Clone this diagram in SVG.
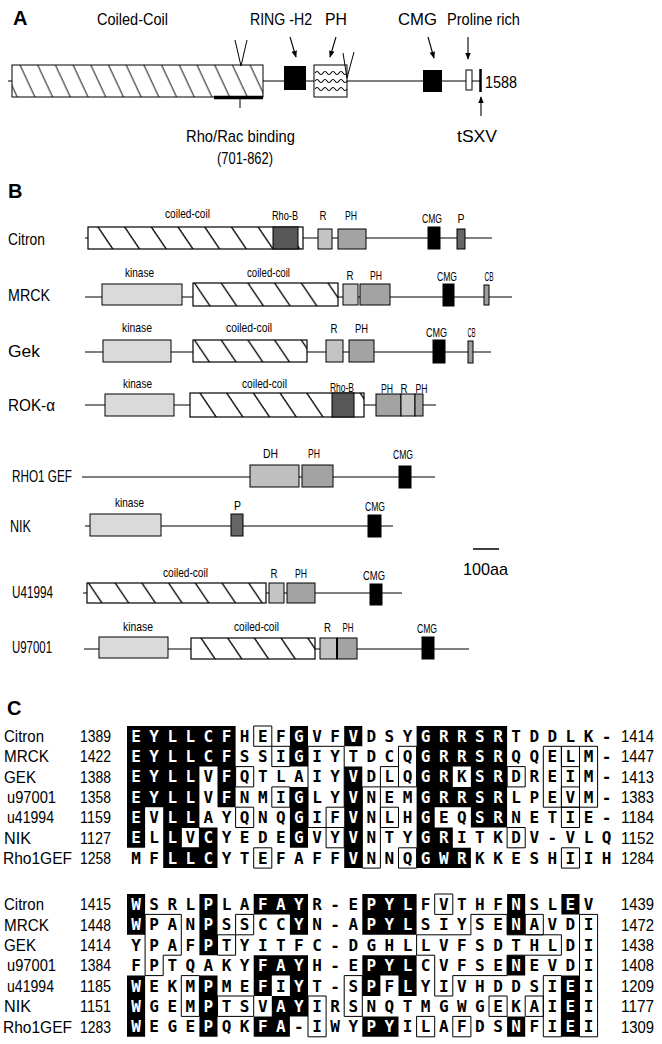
<svg xmlns="http://www.w3.org/2000/svg" width="662" height="1044" viewBox="0 0 662 1044">
<style>
text{font-family:"Liberation Sans",Arial,sans-serif;fill:#000}
.lb{font-size:17px}
.sm{font-size:13px}
.hd{font-size:20px;font-weight:bold}
.aa text{font-family:"DejaVu Sans Mono",monospace;font-weight:bold;font-size:16px;fill:inherit}
.ln{stroke:#000;stroke-width:1.2;fill:none}
.bx{stroke:#000;stroke-width:1}
.wf{fill:#fff}
.k{fill:#dadada}.r{fill:#c4c4c4}.ph{fill:#a3a3a3}.rb{fill:#575757}.p{fill:#656565}.cb{fill:#9e9e9e}.dh{fill:#bfbfbf}.cm{fill:#000}
.c1{fill:url(#hb1);stroke:#000;stroke-width:1.2}
.c2{fill:url(#hb2);stroke:#000;stroke-width:1.2}
.bxg rect,.bxg path{fill:none;stroke:#000;stroke-width:1;vector-effect:non-scaling-stroke}
</style>
<defs>
<pattern id="ha" patternUnits="userSpaceOnUse" width="17.7" height="40" patternTransform="skewX(25)"><line x1="8" y1="-2" x2="8" y2="42" stroke="#000" stroke-width="1"/></pattern>
<pattern id="hb1" patternUnits="userSpaceOnUse" width="26.7" height="30" patternTransform="skewX(34)"><line x1="10" y1="-2" x2="10" y2="32" stroke="#000" stroke-width="1.6"/></pattern>
<pattern id="hb2" patternUnits="userSpaceOnUse" width="26.7" height="30" patternTransform="skewX(34)"><line x1="1.5" y1="-2" x2="1.5" y2="32" stroke="#000" stroke-width="1.6"/></pattern>
<marker id="ar" viewBox="0 0 10 10" refX="9" refY="5" markerWidth="7" markerHeight="7" orient="auto" markerUnits="userSpaceOnUse"><path d="M0,1 L10,5 L0,9 z" fill="#000"/></marker>
<clipPath id="k1" transform="translate(127 726) scale(18.1 20.3)">
<rect x="0" y="0" width="1" height="6"/><rect x="1" y="0" width="1" height="4"/><rect x="2" y="0" width="1" height="7"/>
<rect x="3" y="0" width="1" height="5"/><rect x="3" y="6" width="1" height="1"/><rect x="4" y="0" width="1" height="2"/>
<rect x="4" y="5" width="1" height="2"/><rect x="5" y="0" width="1" height="4"/><rect x="9" y="0" width="1" height="2"/>
<rect x="9" y="3" width="1" height="3"/><rect x="12" y="0" width="1" height="1"/><rect x="12" y="2" width="1" height="5"/>
<rect x="16" y="0" width="1" height="7"/><rect x="17" y="0" width="1" height="4"/><rect x="17" y="5" width="1" height="2"/>
<rect x="18" y="0" width="1" height="2"/><rect x="18" y="3" width="1" height="1"/><rect x="18" y="6" width="1" height="1"/>
<rect x="19" y="0" width="2" height="5"/>
</clipPath>
<clipPath id="k2" transform="translate(127 894) scale(18.1 20.4)">
<rect x="0" y="0" width="1" height="2"/><rect x="0" y="4" width="1" height="3"/><rect x="4" y="0" width="1" height="3"/>
<rect x="4" y="4" width="1" height="3"/><rect x="7" y="0" width="3" height="1"/><rect x="9" y="1" width="1" height="1"/>
<rect x="7" y="3" width="3" height="1"/><rect x="7" y="4" width="1" height="1"/><rect x="9" y="4" width="1" height="2"/>
<rect x="8" y="5" width="1" height="2"/><rect x="7" y="6" width="1" height="1"/><rect x="13" y="0" width="3" height="2"/>
<rect x="13" y="3" width="3" height="1"/><rect x="13" y="4" width="1" height="1"/><rect x="15" y="4" width="1" height="1"/>
<rect x="13" y="6" width="2" height="1"/><rect x="21" y="0" width="1" height="2"/><rect x="21" y="3" width="1" height="1"/>
<rect x="21" y="6" width="1" height="1"/><rect x="24" y="0" width="1" height="1"/><rect x="24" y="4" width="1" height="3"/>
</clipPath>
<g id="s1" class="aa">
<text y="741.8" x="136 154.1 172.2 190.3 208.4 226.5 244.6 262.7 280.8 298.9 317 335.1 353.2 371.3 389.4 407.5 425.6 443.7 461.8 479.9 498 516.1 534.2 552.3 570.4 588.5 606.6" text-anchor="middle">EYLLCFHEFGVFVDSYGRRSRTDDLK-</text>
<text y="762.1" x="136 154.1 172.2 190.3 208.4 226.5 244.6 262.7 280.8 298.9 317 335.1 353.2 371.3 389.4 407.5 425.6 443.7 461.8 479.9 498 516.1 534.2 552.3 570.4 588.5 606.6" text-anchor="middle">EYLLCFSSIGIYTDCQGRRSRQQELM-</text>
<text y="782.4" x="136 154.1 172.2 190.3 208.4 226.5 244.6 262.7 280.8 298.9 317 335.1 353.2 371.3 389.4 407.5 425.6 443.7 461.8 479.9 498 516.1 534.2 552.3 570.4 588.5 606.6" text-anchor="middle">EYLLVFQTLAIYVDLQGRKSRDREIM-</text>
<text y="802.7" x="136 154.1 172.2 190.3 208.4 226.5 244.6 262.7 280.8 298.9 317 335.1 353.2 371.3 389.4 407.5 425.6 443.7 461.8 479.9 498 516.1 534.2 552.3 570.4 588.5 606.6" text-anchor="middle">EYLLVFNMIGLYVNEMGRRSRLPEVM-</text>
<text y="823" x="136 154.1 172.2 190.3 208.4 226.5 244.6 262.7 280.8 298.9 317 335.1 353.2 371.3 389.4 407.5 425.6 443.7 461.8 479.9 498 516.1 534.2 552.3 570.4 588.5 606.6" text-anchor="middle">EVLLAYQNQGIFVNLHGEQSRNETIE-</text>
<text y="843.3" x="136 154.1 172.2 190.3 208.4 226.5 244.6 262.7 280.8 298.9 317 335.1 353.2 371.3 389.4 407.5 425.6 443.7 461.8 479.9 498 516.1 534.2 552.3 570.4 588.5 606.6" text-anchor="middle">ELLVCYEDEGVYVNTYGRITKDV-VLQ</text>
<text y="863.6" x="136 154.1 172.2 190.3 208.4 226.5 244.6 262.7 280.8 298.9 317 335.1 353.2 371.3 389.4 407.5 425.6 443.7 461.8 479.9 498 516.1 534.2 552.3 570.4 588.5 606.6" text-anchor="middle">MFLLCYTEFAFFVNNQGWRKKESHIIH</text>
</g>
<g id="s2" class="aa">
<text y="910" x="136 154.1 172.2 190.3 208.4 226.5 244.6 262.7 280.8 298.9 317 335.1 353.2 371.3 389.4 407.5 425.6 443.7 461.8 479.9 498 516.1 534.2 552.3 570.4 588.5" text-anchor="middle">WSRLPLAFAYR-EPYLFVTHFNSLEV</text>
<text y="930.4" x="136 154.1 172.2 190.3 208.4 226.5 244.6 262.7 280.8 298.9 317 335.1 353.2 371.3 389.4 407.5 425.6 443.7 461.8 479.9 498 516.1 534.2 552.3 570.4 588.5" text-anchor="middle">WPANPSSCCYN-APYLSIYSENAVDI</text>
<text y="950.8" x="136 154.1 172.2 190.3 208.4 226.5 244.6 262.7 280.8 298.9 317 335.1 353.2 371.3 389.4 407.5 425.6 443.7 461.8 479.9 498 516.1 534.2 552.3 570.4 588.5" text-anchor="middle">YPAFPTYITFC-DGHLLVFSDTHLDI</text>
<text y="971.2" x="136 154.1 172.2 190.3 208.4 226.5 244.6 262.7 280.8 298.9 317 335.1 353.2 371.3 389.4 407.5 425.6 443.7 461.8 479.9 498 516.1 534.2 552.3 570.4 588.5" text-anchor="middle">FPTQAKYFAYH-EPYLCVFSENEVDI</text>
<text y="991.6" x="136 154.1 172.2 190.3 208.4 226.5 244.6 262.7 280.8 298.9 317 335.1 353.2 371.3 389.4 407.5 425.6 443.7 461.8 479.9 498 516.1 534.2 552.3 570.4 588.5" text-anchor="middle">WEKMPMEFIYT-SPFLYIVHDDSIEI</text>
<text y="1012" x="136 154.1 172.2 190.3 208.4 226.5 244.6 262.7 280.8 298.9 317 335.1 353.2 371.3 389.4 407.5 425.6 443.7 461.8 479.9 498 516.1 534.2 552.3 570.4 588.5" text-anchor="middle">WGEMPTSVAYIRSNQTMGWGEKAIEI</text>
<text y="1032.4" x="136 154.1 172.2 190.3 208.4 226.5 244.6 262.7 280.8 298.9 317 335.1 353.2 371.3 389.4 407.5 425.6 443.7 461.8 479.9 498 516.1 534.2 552.3 570.4 588.5" text-anchor="middle">WEGEPQKFA-IWYPYILAFDSNFIEI</text>
</g>
</defs>
<rect width="662" height="1044" fill="#fff"/>

<!-- Panel A -->
<g id="panelA">
<text class="hd" x="13" y="25" font-size="19">A</text>
<line class="ln" x1="8" y1="81" x2="480" y2="81"/>
<g id="a-coiled"><rect class="wf" x="12" y="65" width="251" height="32"/><g transform="translate(12,65)"><rect width="251" height="32" fill="url(#ha)" stroke="#000" stroke-width="1"/></g></g>
<g id="a-ring"><rect class="cm" x="284" y="66" width="22" height="24"/></g>
<g id="a-ph"><rect x="314" y="65" width="33" height="32" fill="#fff" stroke="#000" stroke-width="1"/>
<path d="M315,73 q2,-3 4,0 t4,0 t4,0 t4,0 t4,0 t4,0 t4,0 t4,0 M315,81 q2,-3 4,0 t4,0 t4,0 t4,0 t4,0 t4,0 t4,0 t4,0 M315,89 q2,-3 4,0 t4,0 t4,0 t4,0 t4,0 t4,0 t4,0 t4,0" fill="none" stroke="#000" stroke-width="1.1"/></g>
<g id="a-cmg"><rect class="cm" x="423" y="70" width="19" height="22"/></g>
<g id="a-pro"><rect x="466" y="70" width="6" height="20" fill="#fff" stroke="#000" stroke-width="1"/></g>
<g id="a-tsxv"><line x1="480.5" y1="69" x2="480.5" y2="92" stroke="#000" stroke-width="2.5"/></g>
<polyline points="235,40 241,66 247,40" fill="none" stroke="#000" stroke-width="1"/>
<polyline points="343,53 347,78 354,52" fill="none" stroke="#000" stroke-width="1"/>
<g id="a-rho"><line x1="214" y1="97.5" x2="263" y2="97.5" stroke="#000" stroke-width="3.5"/><line x1="240" y1="99" x2="240" y2="108" stroke="#000" stroke-width="1"/></g>
<text class="lb" x="97" y="25" font-size="18" textLength="71" lengthAdjust="spacingAndGlyphs">Coiled-Coil</text>
<text class="lb" x="250" y="25" font-size="18" textLength="62" lengthAdjust="spacingAndGlyphs">RING -H2</text>
<text class="lb" x="325" y="25" font-size="18" textLength="22" lengthAdjust="spacingAndGlyphs">PH</text>
<text class="lb" x="398" y="25" font-size="18" textLength="39" lengthAdjust="spacingAndGlyphs">CMG</text>
<text class="lb" x="447" y="25" font-size="18" textLength="73" lengthAdjust="spacingAndGlyphs">Proline rich</text>
<text class="lb" x="485" y="88" textLength="32" lengthAdjust="spacingAndGlyphs">1588</text>
<text class="lb" x="457" y="142" font-size="18" textLength="40" lengthAdjust="spacingAndGlyphs">tSXV</text>
<text class="lb" x="186" y="142" font-size="18" textLength="109" lengthAdjust="spacingAndGlyphs">Rho/Rac binding</text>
<text class="lb" x="217" y="164" font-size="18" textLength="56" lengthAdjust="spacingAndGlyphs">(701-862)</text>
</g>
<g id="connectors">
<line x1="290" y1="37" x2="296" y2="57" stroke="#000" stroke-width="1.1" marker-end="url(#ar)"/>
<line x1="336" y1="37" x2="330" y2="57" stroke="#000" stroke-width="1.1" marker-end="url(#ar)"/>
<line x1="428" y1="37" x2="434" y2="58" stroke="#000" stroke-width="1.1" marker-end="url(#ar)"/>
<line x1="468" y1="37" x2="468" y2="59" stroke="#000" stroke-width="1.1" marker-end="url(#ar)"/>
<line x1="481" y1="116" x2="481" y2="97" stroke="#000" stroke-width="1.1" marker-end="url(#ar)"/>
</g>

<!-- Panel B -->
<text class="hd" x="8" y="198">B</text>
<g id="citron">
<line class="ln" x1="85" y1="238" x2="492" y2="238"/>
<rect class="wf" x="88" y="227" width="215" height="22"/><g transform="translate(88,227)"><rect class="c1" width="215" height="22"/></g>
<rect class="bx rb" x="273" y="227" width="25" height="22"/>
<rect class="bx r" x="318" y="229" width="14" height="20"/>
<rect class="bx ph" x="338" y="229" width="28" height="20"/>
<rect class="bx cm" x="428" y="227" width="12" height="22"/>
<rect class="bx p" x="457" y="229" width="8" height="20"/>
<text class="lb" x="8" y="245" font-size="16" textLength="37" lengthAdjust="spacingAndGlyphs">Citron</text>
<g class="sm" text-anchor="middle">
<text x="187.5" y="218" textLength="45" lengthAdjust="spacingAndGlyphs">coiled-coil</text>
<text x="285" y="220" textLength="26" lengthAdjust="spacingAndGlyphs">Rho-B</text>
<text x="323" y="220" textLength="7" lengthAdjust="spacingAndGlyphs">R</text>
<text x="351" y="220" textLength="12" lengthAdjust="spacingAndGlyphs">PH</text>
<text x="432" y="223" textLength="20" lengthAdjust="spacingAndGlyphs">CMG</text>
<text x="461" y="223" textLength="7" lengthAdjust="spacingAndGlyphs">P</text>
</g></g>
<g id="mrck">
<line class="ln" x1="85" y1="297" x2="512" y2="297"/>
<rect class="bx k" x="102" y="284" width="80" height="21"/>
<rect class="wf" x="193" y="283" width="145" height="23"/><g transform="translate(193,283)"><rect class="c2" width="145" height="23"/></g>
<rect class="bx r" x="343" y="284" width="15" height="21"/>
<rect class="bx ph" x="360" y="284" width="30" height="21"/>
<rect class="bx cm" x="443" y="284" width="11" height="22"/>
<rect class="bx cb" x="484" y="285" width="5" height="20"/>
<text class="lb" x="8" y="301" font-size="16" textLength="42" lengthAdjust="spacingAndGlyphs">MRCK</text>
<g class="sm" text-anchor="middle">
<text x="139.5" y="277" textLength="29" lengthAdjust="spacingAndGlyphs">kinase</text>
<text x="268.5" y="277" textLength="43" lengthAdjust="spacingAndGlyphs">coiled-coil</text>
<text x="350" y="280" textLength="7" lengthAdjust="spacingAndGlyphs">R</text>
<text x="376" y="280" textLength="12" lengthAdjust="spacingAndGlyphs">PH</text>
<text x="447" y="281" textLength="20" lengthAdjust="spacingAndGlyphs">CMG</text>
<text x="489" y="281" textLength="9" lengthAdjust="spacingAndGlyphs">CB</text>
</g></g>
<g id="gek">
<line class="ln" x1="85" y1="352" x2="491" y2="352"/>
<rect class="bx k" x="103" y="340" width="68" height="22"/>
<rect class="wf" x="193" y="340" width="114" height="22"/><g transform="translate(193,340)"><rect class="c2" width="114" height="22"/></g>
<rect class="bx r" x="326" y="340" width="17" height="22"/>
<rect class="bx ph" x="349" y="340" width="25" height="22"/>
<rect class="bx cm" x="433" y="340" width="12" height="23"/>
<rect class="bx cb" x="468" y="341" width="5" height="22"/>
<text class="lb" x="8" y="357" font-size="16" textLength="32" lengthAdjust="spacingAndGlyphs">Gek</text>
<g class="sm" text-anchor="middle">
<text x="137" y="332" textLength="30" lengthAdjust="spacingAndGlyphs">kinase</text>
<text x="249" y="332" textLength="46" lengthAdjust="spacingAndGlyphs">coiled-coil</text>
<text x="334" y="333" textLength="7" lengthAdjust="spacingAndGlyphs">R</text>
<text x="361.5" y="333" textLength="13" lengthAdjust="spacingAndGlyphs">PH</text>
<text x="436.5" y="337" textLength="21" lengthAdjust="spacingAndGlyphs">CMG</text>
<text x="471.5" y="337" textLength="8" lengthAdjust="spacingAndGlyphs">CB</text>
</g></g>
<g id="rok">
<line class="ln" x1="85" y1="405" x2="436" y2="405"/>
<rect class="bx k" x="105" y="394" width="69" height="22"/>
<rect class="wf" x="190" y="393" width="174" height="24"/><g transform="translate(190,393)"><rect class="c1" width="174" height="24"/></g>
<rect class="bx rb" x="332" y="393" width="22" height="24"/>
<rect class="bx ph" x="376" y="394" width="25" height="22"/>
<rect class="bx r" x="401" y="394" width="14" height="22"/>
<rect class="bx ph" x="415" y="394" width="8" height="22"/>
<text class="lb" x="8" y="411" font-size="16" textLength="47" lengthAdjust="spacingAndGlyphs">ROK-α</text>
<g class="sm" text-anchor="middle">
<text x="137.5" y="388" textLength="29" lengthAdjust="spacingAndGlyphs">kinase</text>
<text x="264.5" y="388" textLength="45" lengthAdjust="spacingAndGlyphs">coiled-coil</text>
<text x="342" y="392" textLength="24" lengthAdjust="spacingAndGlyphs">Rho-B</text>
<text x="387" y="393" textLength="12" lengthAdjust="spacingAndGlyphs">PH</text>
<text x="404" y="393" textLength="7" lengthAdjust="spacingAndGlyphs">R</text>
<text x="421.5" y="393" textLength="12" lengthAdjust="spacingAndGlyphs">PH</text>
</g></g>
<g id="rho1gef">
<line class="ln" x1="82" y1="477" x2="435" y2="477"/>
<rect class="bx dh" x="250" y="465" width="49" height="22"/>
<rect class="bx ph" x="302" y="465" width="31" height="22"/>
<rect class="bx cm" x="399" y="466" width="12" height="22"/>
<text class="lb" x="12" y="482" font-size="16" textLength="60" lengthAdjust="spacingAndGlyphs">RHO1 GEF</text>
<g class="sm" text-anchor="middle">
<text x="270.5" y="458" textLength="15" lengthAdjust="spacingAndGlyphs">DH</text>
<text x="314" y="458" textLength="12" lengthAdjust="spacingAndGlyphs">PH</text>
<text x="403" y="459" textLength="20" lengthAdjust="spacingAndGlyphs">CMG</text>
</g></g>
<g id="nik">
<line class="ln" x1="85" y1="526" x2="393" y2="526"/>
<rect class="bx k" x="90" y="514" width="71" height="22"/>
<rect class="bx p" x="231" y="514" width="12" height="22"/>
<rect class="bx cm" x="368" y="515" width="13" height="22"/>
<text class="lb" x="10" y="532" font-size="16" textLength="21" lengthAdjust="spacingAndGlyphs">NIK</text>
<g class="sm" text-anchor="middle">
<text x="129.5" y="507" textLength="29" lengthAdjust="spacingAndGlyphs">kinase</text>
<text x="237.5" y="510" textLength="7" lengthAdjust="spacingAndGlyphs">P</text>
<text x="375" y="511" textLength="20" lengthAdjust="spacingAndGlyphs">CMG</text>
</g></g>
<g id="scalebar">
<line x1="473" y1="549" x2="499" y2="549" stroke="#000" stroke-width="1.5"/>
<text class="lb" x="463" y="575" textLength="45" lengthAdjust="spacingAndGlyphs">100aa</text>
</g>
<g id="u41994">
<line class="ln" x1="83" y1="593" x2="402" y2="593"/>
<rect class="wf" x="87" y="583" width="179" height="20"/><g transform="translate(87,583)"><rect class="c2" width="179" height="20"/></g>
<rect class="bx r" x="269" y="583" width="15" height="20"/>
<rect class="bx ph" x="287" y="583" width="28" height="20"/>
<rect class="bx cm" x="370" y="584" width="12" height="21"/>
<text class="lb" x="12" y="598" font-size="16" textLength="41" lengthAdjust="spacingAndGlyphs">U41994</text>
<g class="sm" text-anchor="middle">
<text x="185.5" y="577" textLength="45" lengthAdjust="spacingAndGlyphs">coiled-coil</text>
<text x="274" y="578" textLength="7" lengthAdjust="spacingAndGlyphs">R</text>
<text x="301" y="578" textLength="12" lengthAdjust="spacingAndGlyphs">PH</text>
<text x="374" y="580" textLength="22" lengthAdjust="spacingAndGlyphs">CMG</text>
</g></g>
<g id="u97001">
<line class="ln" x1="84" y1="649" x2="469" y2="649"/>
<rect class="bx k" x="99" y="637" width="69" height="21"/>
<rect class="wf" x="191" y="638" width="124" height="21"/><g transform="translate(191,638)"><rect class="c1" width="124" height="21"/></g>
<rect class="bx r" x="320" y="638" width="17" height="21"/>
<rect class="ph" x="337" y="638" width="20" height="21" stroke="#000" stroke-width="1"/>
<line x1="337" y1="638" x2="337" y2="659" stroke="#000" stroke-width="2"/>
<rect class="bx cm" x="422" y="637" width="12" height="22"/>
<text class="lb" x="12" y="653" font-size="16" textLength="40" lengthAdjust="spacingAndGlyphs">U97001</text>
<g class="sm" text-anchor="middle">
<text x="138" y="631" textLength="30" lengthAdjust="spacingAndGlyphs">kinase</text>
<text x="256.5" y="631" textLength="45" lengthAdjust="spacingAndGlyphs">coiled-coil</text>
<text x="327.5" y="632" textLength="7" lengthAdjust="spacingAndGlyphs">R</text>
<text x="348" y="632" textLength="11" lengthAdjust="spacingAndGlyphs">PH</text>
<text x="427" y="633" textLength="20" lengthAdjust="spacingAndGlyphs">CMG</text>
</g></g>

<!-- Panel C -->
<text class="hd" x="7" y="715" font-size="21">C</text>
<g id="block1">
<rect x="100" y="700" width="560" height="190" fill="#000" clip-path="url(#k1)"/>
<use href="#s1" fill="#000"/>
<use href="#s1" fill="#fff" clip-path="url(#k1)"/>
<g class="bxg" transform="translate(127 726) scale(18.1 20.3)">
<rect x="7" y="0" width="1" height="1"/><rect x="8" y="1" width="1" height="1"/><rect x="8" y="3" width="1" height="1"/>
<rect x="6" y="2" width="1" height="1"/><rect x="6" y="4" width="1" height="1"/><rect x="7" y="6" width="1" height="1"/>
<rect x="3" y="5" width="1" height="1"/><rect x="11" y="5" width="1" height="1"/>
<path d="M10,1 H12 V4 H11 V5 H10 Z"/>
<rect x="13" y="3" width="1" height="4"/><rect x="14" y="2" width="1" height="1"/><rect x="14" y="4" width="1" height="1"/>
<rect x="15" y="1" width="1" height="2"/><rect x="15" y="6" width="1" height="1"/>
<rect x="21" y="2" width="1" height="1"/><rect x="21" y="5" width="1" height="1"/>
<rect x="23" y="1" width="1" height="3"/><rect x="24" y="1" width="1" height="1"/><rect x="24" y="3" width="1" height="1"/>
<rect x="24" y="4" width="1" height="1"/><rect x="24" y="6" width="1" height="1"/><rect x="25" y="1" width="1" height="3"/>
</g>
<g class="lb">
<text x="4" y="742" textLength="40" lengthAdjust="spacingAndGlyphs">Citron</text>
<text x="4" y="762.3" textLength="45" lengthAdjust="spacingAndGlyphs">MRCK</text>
<text x="4" y="782.6" textLength="32" lengthAdjust="spacingAndGlyphs">GEK</text>
<text x="7" y="803" textLength="49" lengthAdjust="spacingAndGlyphs">u97001</text>
<text x="7" y="823.2" textLength="47" lengthAdjust="spacingAndGlyphs">u41994</text>
<text x="4" y="843.5" textLength="27" lengthAdjust="spacingAndGlyphs">NIK</text>
<text x="3" y="863.8" textLength="69" lengthAdjust="spacingAndGlyphs">Rho1GEF</text>
<text x="80" y="742" textLength="31" lengthAdjust="spacingAndGlyphs">1389</text>
<text x="80" y="762.3" textLength="31" lengthAdjust="spacingAndGlyphs">1422</text>
<text x="80" y="782.6" textLength="31" lengthAdjust="spacingAndGlyphs">1388</text>
<text x="80" y="803" textLength="31" lengthAdjust="spacingAndGlyphs">1358</text>
<text x="80" y="823.2" textLength="31" lengthAdjust="spacingAndGlyphs">1159</text>
<text x="80" y="843.5" textLength="31" lengthAdjust="spacingAndGlyphs">1127</text>
<text x="80" y="863.8" textLength="31" lengthAdjust="spacingAndGlyphs">1258</text>
<text x="621" y="742" textLength="33" lengthAdjust="spacingAndGlyphs">1414</text>
<text x="621" y="762.3" textLength="33" lengthAdjust="spacingAndGlyphs">1447</text>
<text x="621" y="782.6" textLength="33" lengthAdjust="spacingAndGlyphs">1413</text>
<text x="621" y="803" textLength="33" lengthAdjust="spacingAndGlyphs">1383</text>
<text x="621" y="823.2" textLength="33" lengthAdjust="spacingAndGlyphs">1184</text>
<text x="621" y="843.5" textLength="33" lengthAdjust="spacingAndGlyphs">1152</text>
<text x="621" y="863.8" textLength="33" lengthAdjust="spacingAndGlyphs">1284</text>
</g></g>
<g id="block2">
<rect x="100" y="880" width="560" height="164" fill="#000" clip-path="url(#k2)"/>
<use href="#s2" fill="#000"/>
<use href="#s2" fill="#fff" clip-path="url(#k2)"/>
<g class="bxg" transform="translate(127 894) scale(18.1 20.4)">
<rect x="17" y="0" width="1" height="1"/><rect x="6" y="1" width="1" height="1"/><rect x="5" y="2" width="1" height="1"/>
<rect x="22" y="1" width="1" height="1"/><rect x="20" y="5" width="1" height="1"/><rect x="22" y="5" width="1" height="1"/>
<rect x="16" y="6" width="1" height="1"/><rect x="18" y="6" width="1" height="1"/>
<rect x="3" y="4" width="1" height="2"/><rect x="5" y="5" width="2" height="1"/><rect x="10" y="5" width="1" height="2"/>
<rect x="12" y="4" width="1" height="2"/><rect x="23" y="4" width="1" height="3"/><rect x="25" y="1" width="1" height="6"/>
<path d="M1,1 H3 V3 H2 V4 H1 Z"/>
<path d="M19,1 H21 V2 H24 V3 H21 V4 H18 V5 H17 V3 H16 V2 H19 Z"/>
</g>
<g class="lb">
<text x="4" y="910.2" textLength="40" lengthAdjust="spacingAndGlyphs">Citron</text>
<text x="4" y="930.6" textLength="45" lengthAdjust="spacingAndGlyphs">MRCK</text>
<text x="4" y="951" textLength="32" lengthAdjust="spacingAndGlyphs">GEK</text>
<text x="7" y="971.4" textLength="49" lengthAdjust="spacingAndGlyphs">u97001</text>
<text x="7" y="991.8" textLength="47" lengthAdjust="spacingAndGlyphs">u41994</text>
<text x="4" y="1012.2" textLength="27" lengthAdjust="spacingAndGlyphs">NIK</text>
<text x="3" y="1032.6" textLength="69" lengthAdjust="spacingAndGlyphs">Rho1GEF</text>
<text x="80" y="910.2" textLength="31" lengthAdjust="spacingAndGlyphs">1415</text>
<text x="80" y="930.6" textLength="31" lengthAdjust="spacingAndGlyphs">1448</text>
<text x="80" y="951" textLength="31" lengthAdjust="spacingAndGlyphs">1414</text>
<text x="80" y="971.4" textLength="31" lengthAdjust="spacingAndGlyphs">1384</text>
<text x="80" y="991.8" textLength="31" lengthAdjust="spacingAndGlyphs">1185</text>
<text x="80" y="1012.2" textLength="31" lengthAdjust="spacingAndGlyphs">1151</text>
<text x="80" y="1032.6" textLength="31" lengthAdjust="spacingAndGlyphs">1283</text>
<text x="621" y="910.2" textLength="33" lengthAdjust="spacingAndGlyphs">1439</text>
<text x="621" y="930.6" textLength="33" lengthAdjust="spacingAndGlyphs">1472</text>
<text x="621" y="951" textLength="33" lengthAdjust="spacingAndGlyphs">1438</text>
<text x="621" y="971.4" textLength="33" lengthAdjust="spacingAndGlyphs">1408</text>
<text x="621" y="991.8" textLength="33" lengthAdjust="spacingAndGlyphs">1209</text>
<text x="621" y="1012.2" textLength="33" lengthAdjust="spacingAndGlyphs">1177</text>
<text x="621" y="1032.6" textLength="33" lengthAdjust="spacingAndGlyphs">1309</text>
</g></g>
</svg>
